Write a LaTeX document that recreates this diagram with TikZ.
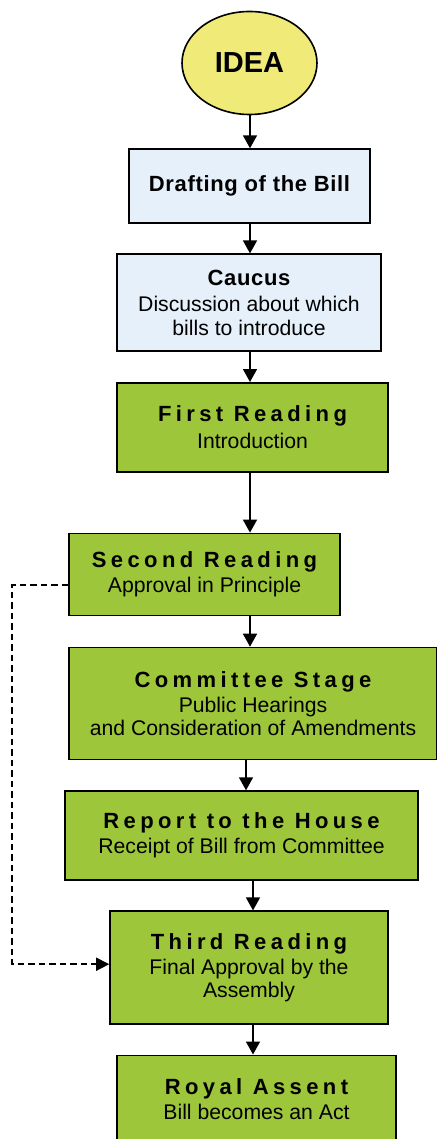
\documentclass[tikz,border=0pt]{standalone}
\usepackage{fontspec}
\setmainfont{Liberation Sans}
\newfontfamily\spacedfont{Liberation Sans}[LetterSpace=20]
\newfontfamily\headfont{Liberation Sans}[LetterSpace=3]
\usetikzlibrary{arrows.meta,positioning,shapes.geometric}
\definecolor{ideayellow}{HTML}{F0EB78}
\definecolor{draftblue}{HTML}{E6F0FA}
\definecolor{stagegreen}{HTML}{9DC63B}
\newcommand{\stagehead}[1]{{\spacedfont\bfseries\fontsize{22}{24}\selectfont #1}}
\newcommand{\prephead}[1]{{\headfont\bfseries\fontsize{22}{24}\selectfont #1}}

\begin{document}
\begin{tikzpicture}[
    node distance=29.5pt,
    box/.style={rectangle,draw,line width=1.6pt,align=center,inner sep=2pt,font=\fontsize{21.2}{23.5}\selectfont},
    prep/.style={box,fill=draftblue},
    stage/.style={box,fill=stagegreen},
    idea/.style={ellipse,draw,line width=1.6pt,fill=ideayellow,minimum width=135pt,minimum height=103pt,font=\bfseries\fontsize{29}{32}\selectfont},
    flow/.style={-{Triangle[length=13pt,width=14pt]},line width=1.6pt},
    loopback/.style={-{Triangle[length=13pt,width=13pt]},line width=1.6pt,dash pattern=on 6.5pt off 4pt}]
    \useasboundingbox (0,0) rectangle (436pt,-1139pt);
    \fill[white] (0,0) rectangle (436pt,-1139pt);
    \node[idea] (idea) at (249.5pt,-63pt) {IDEA};
    \node[prep,minimum width=241pt,minimum height=74pt,below=33pt of idea] (draft) {\prephead{Drafting of the Bill}};
    \node[prep,minimum width=264pt,minimum height=97pt,below=of draft,xshift=-0.5pt] (caucus) {\prephead{Caucus}\\[3pt]Discussion about which\\bills to introduce};
    \node[stage,minimum width=271pt,minimum height=89pt,below=30pt of caucus,xshift=3.5pt] (first) {\stagehead{First Reading}\\[3.5pt]Introduction};
    \node[stage,minimum width=271pt,minimum height=82pt,below=60pt of first,xshift=-48pt] (second) {\stagehead{Second Reading}\\[1.5pt]Approval in Principle};
    \node[stage,minimum width=368pt,minimum height=112pt,below=30.5pt of second,xshift=48.5pt] (committee) {\stagehead{Committee Stage}\\[1.5pt]Public Hearings\\and Consideration of Amendments};
    \node[stage,minimum width=353pt,minimum height=89pt,below=30pt of committee,xshift=-11.5pt] (report) {\stagehead{Report to the House}\\[1.5pt]Receipt of Bill from Committee};
    \node[stage,minimum width=278pt,minimum height=113pt,below=of report,xshift=7.5pt] (third) {\stagehead{Third Reading}\\[1.5pt]Final Approval by the\\Assembly};
    \node[stage,minimum width=279pt,minimum height=88pt,below=of third,xshift=7.5pt] (royal) {\stagehead{Royal Assent}\\[1.5pt]Bill becomes an Act};
    \coordinate (spine) at (250pt,0);
    \coordinate (spineb) at (253pt,0);
    \draw[flow] (idea.south -| spine) -- (draft.north -| spine);
    \draw[flow] (draft.south -| spine) -- (caucus.north -| spine);
    \draw[flow] (caucus.south -| spine) -- (first.north -| spine);
    \draw[flow] (first.south -| spine) -- (second.north -| spine);
    \draw[flow] (second.south -| spine) -- (committee.north -| spine);
    \draw[flow] ([xshift=-4pt]committee.south -| spine) -- ([xshift=-4pt]report.north -| spine);
    \draw[flow] (report.south -| spineb) -- (third.north -| spineb);
    \draw[flow] (third.south -| spineb) -- (royal.north -| spineb);
    % second reading may go straight to third reading
    \coordinate (back) at (12pt,-585pt);
    \draw[loopback] (second.west |- back) -- (back) |- ([yshift=3.5pt]third.west);
\end{tikzpicture}
\end{document}
